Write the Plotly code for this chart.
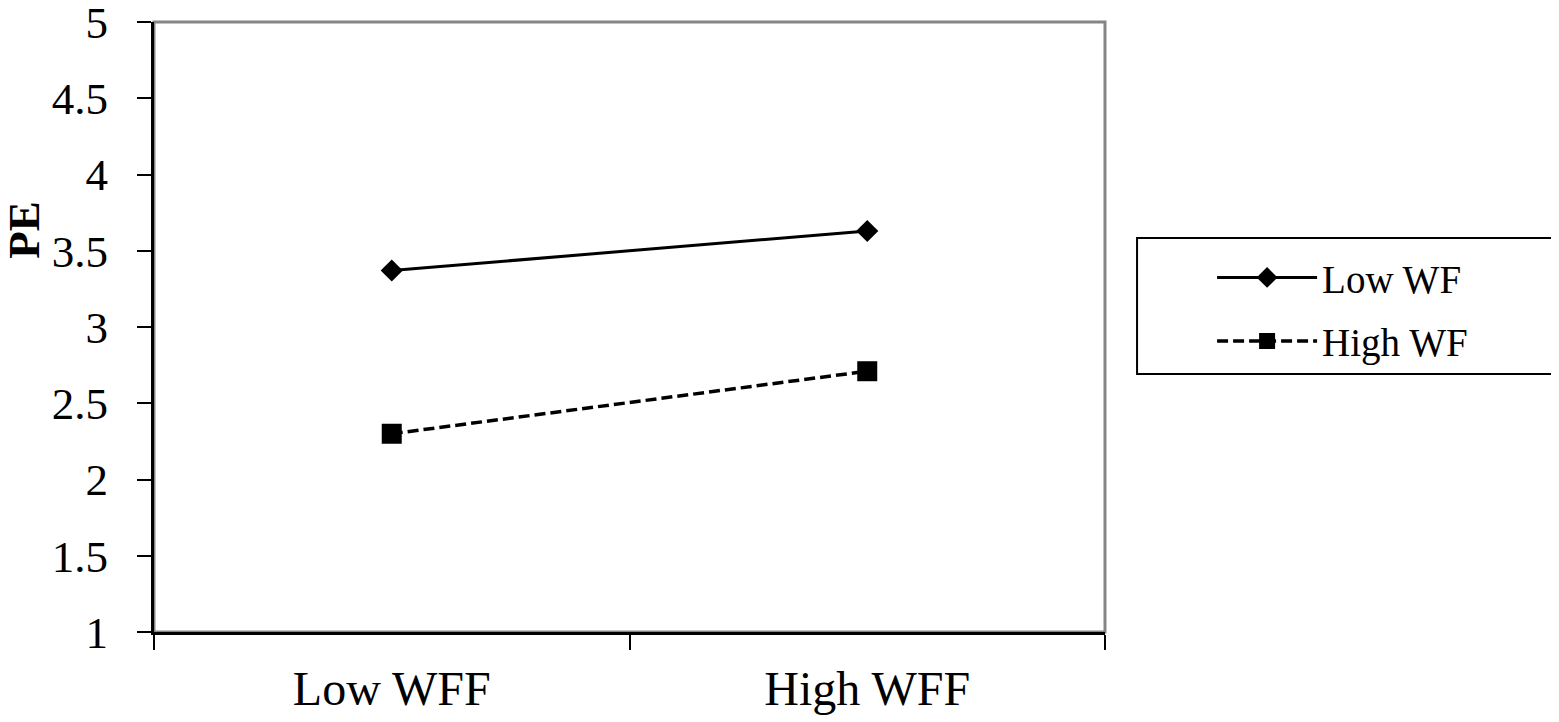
import plotly.graph_objects as go

# interaction plot: PE by WFF level, split by WF
categories = ["Low WFF", "High WFF"]
low_wf = [3.37, 3.63]
high_wf = [2.30, 2.71]
y_ticks = [1, 1.5, 2, 2.5, 3, 3.5, 4, 4.5, 5]
y_ticktext = ["1", "1.5", "2", "2.5", "3", "3.5", "4", "4.5", "5"]

FONT = "Liberation Serif, Times New Roman, serif"

fig = go.Figure()
fig.add_trace(go.Scatter(
    x=categories, y=low_wf, name="Low WF", mode="lines+markers",
    line=dict(color="black", width=3),
    marker=dict(symbol="diamond", size=17, color="black"),
    legendgroup="a"))
fig.add_trace(go.Scatter(
    x=categories, y=high_wf, name="High WF", mode="lines+markers",
    line=dict(color="black", width=3.5, dash="11px,5px"),
    marker=dict(symbol="square", size=20, color="black"),
    legendgroup="b"))

# gray frame for top/right, legend box
fig.add_shape(type="rect", xref="paper", yref="paper", x0=0, x1=1, y0=0, y1=1,
              line=dict(color="#858585", width=3), layer="below")
fig.add_shape(type="rect", xref="paper", yref="paper", x0=1.0337, x1=1.4732,
              y0=0.423, y1=0.646, line=dict(color="black", width=2))

fig.add_annotation(text="<b>PE</b>", xref="paper", yref="paper", x=-0.137, y=0.659,
                   xanchor="center", yanchor="middle",
                   textangle=-90, showarrow=False, font=dict(size=45, color="black", family=FONT))

# page body has an 8px default margin -> figure is 8px smaller, margins shifted
fig.update_layout(
    width=1551, height=714,
    margin=dict(l=146, r=454, t=14, b=90),
    plot_bgcolor="white", paper_bgcolor="white",
    font=dict(family=FONT, color="black"),
    showlegend=True,
    legend=dict(x=1.1126, y=0.6335, xanchor="left", yanchor="top",
                bgcolor="rgba(0,0,0,0)", borderwidth=0,
                font=dict(size=39, family=FONT, color="black"),
                traceorder="grouped", tracegroupgap=10, itemwidth=100),
    xaxis=dict(type="category", range=[-0.5, 1.5], tickson="boundaries",
               showline=True, linecolor="black", linewidth=3,
               ticks="outside", ticklen=15, tickwidth=2, tickcolor="black",
               tickfont=dict(size=48, family=FONT), ticklabelstandoff=12,
               showgrid=False, zeroline=False, automargin=False),
    yaxis=dict(range=[1, 5], tickvals=y_ticks, ticktext=y_ticktext,
               showline=True, linecolor="black", linewidth=3,
               ticks="outside", ticklen=14, tickwidth=2, tickcolor="black",
               tickfont=dict(size=45, family=FONT), ticklabelstandoff=20,
               ticklabeloverflow="allow",
               showgrid=False, zeroline=False, automargin=False),
)

fig.write_html("out.html")
